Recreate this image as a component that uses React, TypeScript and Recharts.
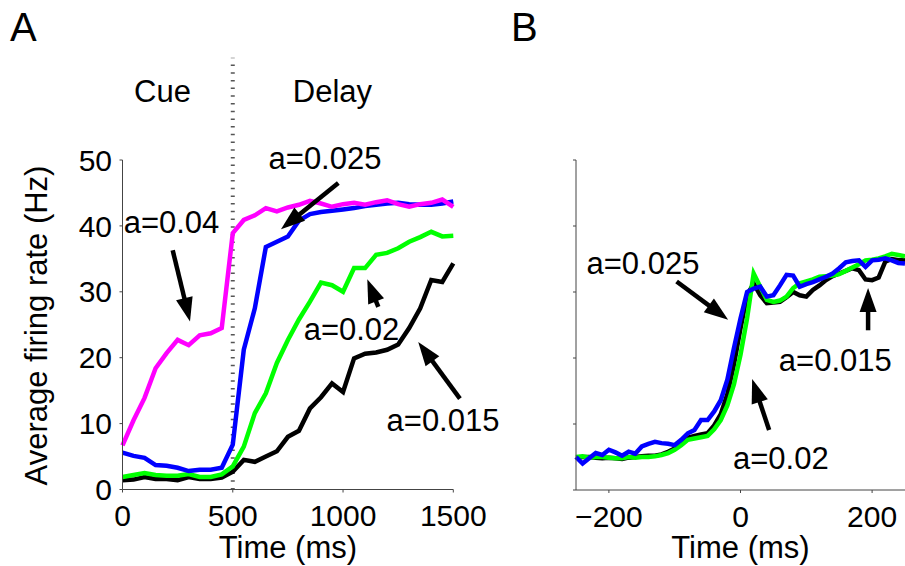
import { Line, LineChart, ReferenceDot, ReferenceLine, XAxis, YAxis } from "recharts";

const FONT = '"Liberation Sans", Arial, Helvetica, sans-serif';
const AXIS = "#444";

// ---------------------------------------------------------------------------
// Panel A: cue + delay period (ms from cue onset)
// ---------------------------------------------------------------------------

const timeA = [
  0, 50, 100, 150, 200, 250, 300, 350, 400, 450, 500, 550, 600, 650, 700, 750,
  800, 850, 900, 950, 1000, 1050, 1100, 1150, 1200, 1250, 1300, 1350, 1400,
  1450, 1500,
];
const rateA040 = [
  6.7, 10.5, 13.9, 18.4, 20.7, 22.7, 21.9, 23.4, 23.7, 24.5, 38.9, 40.9, 41.6,
  42.7, 42.2, 42.8, 43.2, 43.8, 43.4, 42.9, 43.3, 43.5, 43.2, 43.6, 43.9, 43.3,
  42.9, 43.3, 43.5, 44.0, 42.9,
];
const rateA025 = [
  5.6, 5.1, 4.8, 3.7, 3.6, 3.3, 2.8, 3.0, 3.0, 3.3, 6.8, 21.2, 27.5, 36.8,
  37.6, 38.4, 40.8, 41.8, 42.1, 42.3, 42.5, 42.7, 43.0, 43.2, 43.4, 43.5, 43.3,
  43.2, 43.2, 43.4, 43.7,
];
const rateA020 = [
  1.9, 2.2, 2.5, 2.2, 2.1, 2.1, 2.35, 1.9, 1.9, 2.3, 3.5, 6.5, 11.6, 14.6,
  19.2, 22.7, 25.8, 28.5, 31.4, 31.0, 30.0, 33.6, 33.6, 35.6, 35.9, 36.6, 37.6,
  38.3, 39.1, 38.4, 38.5,
];
const rateA015 = [
  1.4, 1.5, 1.9, 1.6, 1.6, 1.4, 1.9, 1.6, 1.6, 1.8, 2.7, 4.5, 4.2, 5.0, 5.8,
  8.0, 8.9, 12.3, 14.0, 16.1, 14.8, 19.9, 20.6, 20.8, 21.2, 22.0, 24.5, 27.5,
  31.8, 31.5, 34.3,
];

// ---------------------------------------------------------------------------
// Panel B: aligned on the ramp (ms)
// ---------------------------------------------------------------------------

const timeB = [
  -250, -240, -230, -220, -210, -200, -190, -180, -170, -160, -150, -140, -130,
  -120, -110, -100, -90, -80, -70, -60, -50, -40, -30, -20, -10, 0, 10, 20, 30,
  40, 50, 60, 70, 80, 90, 100, 110, 120, 130, 140, 150, 160, 170, 180, 190, 200,
  210, 220, 230, 240, 250,
];
const rateB025 = [
  5.0, 4.0, 4.8, 5.6, 5.3, 6.1, 5.7, 5.2, 5.8, 5.5, 6.6, 7.0, 7.3, 7.1, 7.0,
  6.8, 7.6, 8.6, 9.1, 10.6, 10.6, 11.9, 13.6, 16.7, 21.5, 26.0, 30.0, 30.5,
  30.8, 29.3, 29.5, 31.0, 32.6, 32.5, 30.8, 31.2, 31.5, 31.9, 32.3, 32.8, 33.6,
  34.5, 34.7, 34.8, 33.8, 34.8, 34.9, 35.1, 34.8, 34.4, 34.3,
];
const rateB020 = [
  5.0, 5.1, 4.9, 5.0, 5.0, 4.9, 4.8, 4.8, 5.0, 4.9, 5.0, 5.0, 5.1, 5.3, 5.6,
  6.1, 6.8, 7.6, 7.8, 8.0, 8.2, 9.2, 10.6, 12.8, 16.0, 20.5, 26.0, 32.8, 30.8,
  28.8, 28.5, 28.7, 29.3, 30.6, 31.3, 31.6, 31.9, 32.3, 32.4, 32.5, 32.7, 33.2,
  33.7, 34.2, 34.8, 34.9, 35.1, 35.4, 35.8, 35.6, 35.4,
];
const rateB015 = [
  4.9, 5.0, 5.0, 4.9, 4.8, 4.9, 4.8, 4.7, 4.9, 5.0, 5.1, 5.2, 5.2, 5.4, 5.8,
  6.3, 7.0, 7.9, 8.2, 8.4, 8.6, 9.8, 11.5, 14.5, 19.0, 24.5, 29.5, 31.3, 29.5,
  28.3, 28.4, 28.5, 29.2, 30.0, 29.5, 29.3, 30.3, 31.0, 31.8, 32.4, 32.8, 33.2,
  33.6, 33.3, 31.9, 31.8, 32.2, 34.6, 35.0, 34.8, 34.8,
];

const yTicks = [0, 10, 20, 30, 40, 50];
const xTicksA = [0, 500, 1000, 1500];
const xTicksB = [-200, 0, 200];

const dataA = timeA.map((t, i) => ({
  t,
  a040: rateA040[i],
  a025: rateA025[i],
  a020: rateA020[i],
  a015: rateA015[i],
}));
const dataB = timeB.map((t, i) => ({
  t,
  a025: rateB025[i],
  a020: rateB020[i],
  a015: rateB015[i],
}));

// ---------------------------------------------------------------------------
// Annotation helpers
// ---------------------------------------------------------------------------

function Arrow(props: any) {
  const { x1, y1, x2, y2 } = props;
  const dx = x2 - x1;
  const dy = y2 - y1;
  const len = Math.hypot(dx, dy) || 1;
  const ux = dx / len;
  const uy = dy / len;
  const head = Math.min(24, len * 0.8);
  const hw = 8.5;
  const bx = x2 - ux * head;
  const by = y2 - uy * head;
  const px = -uy;
  const py = ux;
  return (
    <g>
      <line x1={x1} y1={y1} x2={bx + ux * 2} y2={by + uy * 2} stroke="#000" strokeWidth={4.5} />
      <polygon
        points={`${x2},${y2} ${bx + px * hw},${by + py * hw} ${bx - px * hw},${by - py * hw}`}
        fill="#000"
      />
    </g>
  );
}

const textShape = (label: string) => (p: any) => (
  <text
    x={p.cx}
    y={p.cy}
    dy="0.36em"
    textAnchor="middle"
    fontSize={31}
    fontFamily={FONT}
    fill="#000"
  >
    {label}
  </text>
);

const minusFmt = (v: number) => (v < 0 ? `\u2212${Math.abs(v)}` : String(v));
const blankFmt = () => "";

const tickStyle = { fontSize: 30, fill: "#000", fontFamily: FONT };
const lineProps = {
  type: "linear" as const,
  dot: false,
  strokeWidth: 4.5,
  isAnimationActive: false,
};

export default function App() {
  return (
    <div
      style={{
        position: "absolute",
        left: 0,
        top: 0,
        width: 905,
        height: 566,
        background: "#fff",
        fontFamily: FONT,
      }}
    >
      {/* Panel A */}
      <div style={{ position: "absolute", left: 0, top: 0 }}>
        <LineChart
          width={520}
          height={566}
          data={dataA}
          margin={{ top: 160, right: 66.7, left: 0, bottom: 0 }}
        >
          <XAxis
            dataKey="t"
            type="number"
            domain={[0, 1500]}
            ticks={xTicksA}
            height={76.5}
            tickSize={3}
            tickMargin={12.5}
            stroke={AXIS}
            tick={tickStyle}
            label={{ value: "Time (ms)", position: "insideBottom", offset: 8, fontSize: 31, fill: "#000", fontFamily: FONT }}
          />
          <YAxis
            type="number"
            domain={[0, 50]}
            ticks={yTicks}
            width={122.5}
            tickSize={3}
            tickMargin={7.5}
            stroke={AXIS}
            tick={tickStyle}
          />
          <ReferenceLine
            segment={[{ x: 500, y: 0 }, { x: 500, y: 65.5 }]}
            ifOverflow="visible"
            stroke="#555"
            strokeWidth={4}
            strokeDasharray="1.5 6.2"
          />
          <Line {...lineProps} dataKey="a015" stroke="#000000" />
          <Line {...lineProps} dataKey="a020" stroke="#00ff00" />
          <Line {...lineProps} dataKey="a025" stroke="#0000ff" />
          <Line {...lineProps} dataKey="a040" stroke="#ff00ff" />

          <ReferenceDot x={181.4} y={60.47} r={1} ifOverflow="visible" shape={textShape("Cue")} />
          <ReferenceDot x={952.2} y={60.47} r={1} ifOverflow="visible" shape={textShape("Delay")} />
          <ReferenceDot x={222.2} y={40.6} r={1} ifOverflow="visible" shape={textShape("a=0.04")} />
          <ReferenceDot x={918.2} y={50.3} r={1} ifOverflow="visible" shape={textShape("a=0.025")} />
          <ReferenceDot x={1038.4} y={24.4} r={1} ifOverflow="visible" shape={textShape("a=0.02")} />
          <ReferenceDot x={1453.3} y={10.5} r={1} ifOverflow="visible" shape={textShape("a=0.015")} />

          <ReferenceLine segment={[{ x: 227.6, y: 36.3 }, { x: 306.1, y: 25.5 }]} ifOverflow="visible" shape={Arrow} />
          <ReferenceLine segment={[{ x: 978.6, y: 46.5 }, { x: 718.7, y: 39.5 }]} ifOverflow="visible" shape={Arrow} />
          <ReferenceLine segment={[{ x: 1160, y: 27.7 }, { x: 1110, y: 31.9 }]} ifOverflow="visible" shape={Arrow} />
          <ReferenceLine segment={[{ x: 1530, y: 13.8 }, { x: 1341, y: 22.4 }]} ifOverflow="visible" shape={Arrow} />
        </LineChart>
      </div>

      {/* Panel B */}
      <div style={{ position: "absolute", left: 480, top: 0 }}>
        <LineChart
          width={425}
          height={566}
          data={dataB}
          margin={{ top: 160, right: 0, left: 0, bottom: 0 }}
        >
          <XAxis
            dataKey="t"
            type="number"
            domain={[-250, 250]}
            ticks={xTicksB}
            tickFormatter={minusFmt}
            height={76}
            tickSize={3}
            tickMargin={12.5}
            stroke={AXIS}
            tick={tickStyle}
            label={{ value: "Time (ms)", position: "insideBottom", offset: 8, fontSize: 31, fill: "#000", fontFamily: FONT }}
          />
          <YAxis
            type="number"
            domain={[0, 50]}
            ticks={yTicks}
            width={96}
            tickSize={3}
            stroke={AXIS}
            tickFormatter={blankFmt}
            tick={tickStyle}
          />
          <Line {...lineProps} dataKey="a015" stroke="#000000" />
          <Line {...lineProps} dataKey="a020" stroke="#00ff00" />
          <Line {...lineProps} dataKey="a025" stroke="#0000ff" />

          <ReferenceDot x={-148.3} y={34.4} r={1} ifOverflow="visible" shape={textShape("a=0.025")} />
          <ReferenceDot x={144.1} y={19.7} r={1} ifOverflow="visible" shape={textShape("a=0.015")} />
          <ReferenceDot x={61.3} y={4.85} r={1} ifOverflow="visible" shape={textShape("a=0.02")} />

          <ReferenceLine segment={[{ x: -97.1, y: 31.6 }, { x: -18.8, y: 25.8 }]} ifOverflow="visible" shape={Arrow} />
          <ReferenceLine segment={[{ x: 193.9, y: 24.2 }, { x: 193.9, y: 30.6 }]} ifOverflow="visible" shape={Arrow} />
          <ReferenceLine segment={[{ x: 43.5, y: 9.1 }, { x: 17.7, y: 16.8 }]} ifOverflow="visible" shape={Arrow} />
        </LineChart>
      </div>

      {/* Panel letters and shared y label */}
      <svg
        width={905}
        height={566}
        style={{ position: "absolute", left: 0, top: 0, pointerEvents: "none" }}
      >
        <text x={10} y={41} fontSize={40} fontFamily={FONT} fill="#000">
          A
        </text>
        <text x={511} y={41} fontSize={40} fontFamily={FONT} fill="#000">
          B
        </text>
        <text
          x={46.5}
          y={325.5}
          transform="rotate(-90 46.5 325.5)"
          textAnchor="middle"
          fontSize={31}
          fontFamily={FONT}
          fill="#000"
        >
          Average firing rate (Hz)
        </text>
      </svg>
    </div>
  );
}
